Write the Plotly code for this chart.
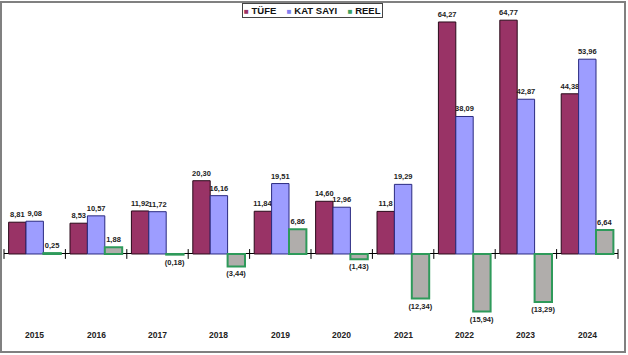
import plotly.graph_objects as go

years = ["2015", "2016", "2017", "2018", "2019", "2020", "2021", "2022", "2023", "2024"]
tufe = [8.81, 8.53, 11.92, 20.30, 11.84, 14.60, 11.8, 64.27, 64.77, 44.38]
katsayi = [9.08, 10.57, 11.72, 16.16, 19.51, 12.96, 19.29, 38.09, 42.87, 53.96]
reel = [0.25, 1.88, -0.18, -3.44, 6.86, -1.43, -12.34, -15.94, -13.29, 6.64]
tufe_labels = ["8,81", "8,53", "11,92", "20,30", "11,84", "14,60", "11,8", "64,27", "64,77", "44,38"]
katsayi_labels = ["9,08", "10,57", "11,72", "16,16", "19,51", "12,96", "19,29", "38,09", "42,87", "53,96"]
reel_labels = ["0,25", "1,88", "(0,18)", "(3,44)", "6,86", "(1,43)", "(12,34)", "(15,94)", "(13,29)", "6,64"]
series_names = ["TÜFE", "KAT SAYI", "REEL"]
series_colors = ["#993366", "#9d9dff", "#b0adab"]

W, H = 628, 355
ML, MR, MT, MB = 4, 10, 10, 10
PW, PH = W - ML - MR, H - MT - MB
YMIN, YMAX = -25.21, 67.59

xs = list(range(len(years)))
FONT = "Arial, Liberation Sans, sans-serif"
lab_font = dict(family=FONT, size=7.5, color="#222")

def pyf(py):
    return (MT + PH - py) / PH

def pxf(px):
    return (px - ML) / PW

border_cfg = [("#2a0a1a", 1), ("#2a2a80", 1), ("#2e9a5a", 2)]
values = [tufe, katsayi, reel]
labels = [tufe_labels, katsayi_labels, reel_labels]

fig = go.Figure()
for name, col, (lc, lw), vals, labs in zip(series_names, series_colors, border_cfg, values, labels):
    fig.add_trace(go.Bar(
        x=xs, y=vals, name=name, text=[f"<b>{t}</b>" for t in labs],
        textposition="outside", constraintext="none",
        textfont=lab_font, outsidetextfont=lab_font, cliponaxis=False, showlegend=False,
        marker=dict(color=col, line=dict(color=lc, width=lw)),
        hoverinfo="skip"))

# category boundary tick marks on the zero line
bounds = [i - 0.5 for i in range(len(years) + 1)]
fig.add_trace(go.Scatter(
    x=bounds, y=[0] * len(bounds), mode="markers", showlegend=False, hoverinfo="skip",
    cliponaxis=False,
    marker=dict(symbol="line-ns", size=7, line=dict(color="#000", width=1))))

for i, yr in enumerate(years):
    fig.add_annotation(x=i, y=-22.4, text=f"<b>{yr}</b>", showarrow=False,
                       font=dict(family=FONT, size=8.5, color="#222"))

# compact legend box (as in the reference)
sq_colors = ["#993366", "#8080f0", "#3aa060"]
leg_text = "&nbsp;&nbsp;&nbsp;&nbsp;".join(
    f'<span style="color:{c};font-size:8px">■</span>&nbsp;<b>{n}</b>'
    for c, n in zip(sq_colors, series_names))
fig.add_annotation(xref="paper", yref="paper", x=pxf(312.5), y=pyf(10.5),
                   xanchor="center", yanchor="middle", showarrow=False,
                   text=leg_text, font=dict(family=FONT, size=9.5, color="#111"),
                   bgcolor="white", bordercolor="#444", borderwidth=1, borderpad=1)

fig.add_shape(type="rect", xref="paper", yref="paper",
              x0=pxf(1), x1=pxf(625), y0=pyf(352), y1=pyf(2),
              line=dict(color="#808080", width=2), layer="below")

fig.update_layout(
    width=W, height=H,
    margin=dict(l=ML, r=MR, t=MT, b=MB),
    paper_bgcolor="white", plot_bgcolor="white",
    barmode="group", bargap=0.15, bargroupgap=0,
    font=dict(family=FONT, size=10, color="#000"),
    showlegend=False,
    xaxis=dict(range=[-0.5, len(years) - 0.5], showticklabels=False, showgrid=False,
               zeroline=False, showline=False, ticks=""),
    yaxis=dict(range=[YMIN, YMAX], showticklabels=False, showgrid=False,
               zeroline=True, zerolinecolor="#000", zerolinewidth=1, showline=False, ticks=""),
)

fig.write_html("out.html", post_script="document.body.style.margin='0';",
               config={"displayModeBar": False})
